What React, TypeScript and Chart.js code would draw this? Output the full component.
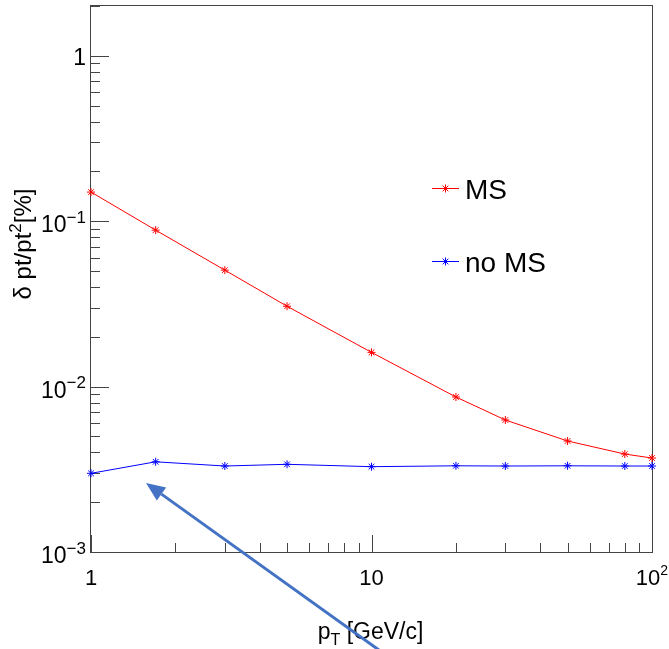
import { useEffect, useRef } from "react";
import { Chart, registerables } from "chart.js";

Chart.register(...registerables);

// ---- data ----
const ptValues = [1, 1.7, 3, 5, 10, 20, 30, 50, 80, 100];
const msValues = [0.15, 0.0883, 0.0506, 0.0306, 0.0161, 0.00865, 0.00628, 0.00469, 0.00391, 0.0037];
const noMsValues = [0.00299, 0.00351, 0.00331, 0.00339, 0.00328, 0.00332, 0.00331, 0.00332, 0.00331, 0.00331];
const seriesNames = ["MS", "no MS"];

const xTickValues = [1, 10, 100];
const xTickBases = ["1", "10", "10"];
const xTickExps = ["", "", "2"];
const yTickValues = [0.001, 0.01, 0.1, 1];
const yTickBases = ["10", "10", "10", "1"];
const yTickExps = ["\u22123", "\u22122", "\u22121", ""];

const xTitleParts = ["p", "T", " [GeV/c]"];
const yTitleParts = ["\u03b4 pt/pt", "2", "[%]"];

// arrow annotation in data coordinates (tip, tail)
const arrowTip = { x: 1.571, y: 0.002612 };
const arrowTail = { x: 12.64, y: 0.000207 };

const FONT = '"Liberation Sans", Arial, Helvetica, sans-serif';
const RED = "rgb(255,0,0)";
const BLUE = "rgb(0,0,255)";

function drawStar(ctx: CanvasRenderingContext2D, x: number, y: number, r: number, color: string) {
  ctx.save();
  ctx.strokeStyle = color;
  ctx.lineWidth = 1;
  ctx.beginPath();
  ctx.moveTo(x - r, y);
  ctx.lineTo(x + r, y);
  ctx.moveTo(x, y - r);
  ctx.lineTo(x, y + r);
  const d = r * Math.SQRT1_2;
  ctx.moveTo(x - d, y - d);
  ctx.lineTo(x + d, y + d);
  ctx.moveTo(x - d, y + d);
  ctx.lineTo(x + d, y - d);
  ctx.stroke();
  ctx.restore();
}

const rootPlugin = {
  id: "rootStyle",
  beforeDatasetsDraw(chart: any) {
    const ctx: CanvasRenderingContext2D = chart.ctx;
    const { left, right, top, bottom } = chart.chartArea;
    const xs = chart.scales.x;
    const ys = chart.scales.y;
    ctx.save();
    // frame
    ctx.strokeStyle = "#444";
    ctx.lineWidth = 1;
    ctx.strokeRect(Math.round(left) - 0.5, Math.round(top) - 0.5, Math.round(right - left) + 1, Math.round(bottom - top) + 1);

    // y ticks
    ctx.strokeStyle = "#444";
    ctx.beginPath();
    for (let d = -3; d <= 0; d++) {
      for (let k = 1; k <= 9; k++) {
        const v = k * Math.pow(10, d);
        if (v < ys.min * 0.999 || v > ys.max * 1.001) continue;
        const py = Math.round(ys.getPixelForValue(v)) + 0.5;
        const len = k === 1 ? 18 : 9;
        ctx.moveTo(left, py);
        ctx.lineTo(left + len, py);
      }
    }
    // x ticks
    for (let d = 0; d <= 2; d++) {
      for (let k = 1; k <= 9; k++) {
        const v = k * Math.pow(10, d);
        if (v < xs.min * 0.999 || v > xs.max * 1.001) continue;
        const px = Math.round(xs.getPixelForValue(v)) + 0.5;
        const len = k === 1 ? 17 : 9;
        ctx.moveTo(px, bottom);
        ctx.lineTo(px, bottom - len);
      }
    }
    ctx.stroke();

    // y tick labels
    ctx.fillStyle = "#000";
    ctx.textAlign = "right";
    ctx.textBaseline = "alphabetic";
    const labelRight = left - 5;
    yTickValues.forEach((v, i) => {
      const py = ys.getPixelForValue(v);
      const exp = yTickExps[i];
      if (!exp) {
        ctx.font = `23px ${FONT}`;
        ctx.fillText(yTickBases[i], labelRight, py + 9);
      } else {
        ctx.font = `17px ${FONT}`;
        const sw = ctx.measureText(exp).width;
        ctx.fillText(exp, labelRight, py + 1.5);
        ctx.font = `23px ${FONT}`;
        ctx.fillText(yTickBases[i], labelRight - sw, py + 11);
      }
    });

    // x tick labels
    ctx.textAlign = "left";
    xTickValues.forEach((v, i) => {
      const px = xs.getPixelForValue(v);
      ctx.font = `22px ${FONT}`;
      const bw = ctx.measureText(xTickBases[i]).width;
      ctx.font = `14px ${FONT}`;
      const ew = xTickExps[i] ? ctx.measureText(xTickExps[i]).width : 0;
      const x0 = px - (bw + ew) / 2;
      ctx.font = `22px ${FONT}`;
      ctx.fillText(xTickBases[i], x0, bottom + 33);
      if (xTickExps[i]) {
        ctx.font = `14px ${FONT}`;
        ctx.fillText(xTickExps[i], x0 + bw, bottom + 23);
      }
    });

    // x title
    {
      ctx.font = `23px ${FONT}`;
      const w0 = ctx.measureText(xTitleParts[0]).width;
      const w2 = ctx.measureText(xTitleParts[2]).width;
      ctx.font = `16px ${FONT}`;
      const w1 = ctx.measureText(xTitleParts[1]).width;
      const total = w0 + w1 + w2;
      const cx = (left + right) / 2 - 1;
      const by = 639;
      let x = cx - total / 2;
      ctx.font = `23px ${FONT}`;
      ctx.fillText(xTitleParts[0], x, by);
      x += w0;
      ctx.font = `16px ${FONT}`;
      ctx.fillText(xTitleParts[1], x, by + 6);
      x += w1;
      ctx.font = `23px ${FONT}`;
      ctx.fillText(xTitleParts[2], x, by);
    }

    // y title
    {
      ctx.save();
      ctx.translate(31, 244);
      ctx.rotate(-Math.PI / 2);
      ctx.font = `24px ${FONT}`;
      const w0 = ctx.measureText(yTitleParts[0]).width;
      const w2 = ctx.measureText(yTitleParts[2]).width;
      ctx.font = `17px ${FONT}`;
      const w1 = ctx.measureText(yTitleParts[1]).width;
      const total = w0 + w1 + w2;
      let x = -total / 2;
      ctx.font = `24px ${FONT}`;
      ctx.fillText(yTitleParts[0], x, 0);
      x += w0;
      ctx.font = `17px ${FONT}`;
      ctx.fillText(yTitleParts[1], x, -10);
      x += w1;
      ctx.font = `24px ${FONT}`;
      ctx.fillText(yTitleParts[2], x, 0);
      ctx.restore();
    }

    // legend
    const legendColors = [RED, BLUE];
    const legendYs = [top + 181.5, top + 255];
    seriesNames.forEach((name, i) => {
      const ly = Math.round(legendYs[i]) + 0.5;
      ctx.strokeStyle = legendColors[i];
      ctx.lineWidth = 1;
      ctx.beginPath();
      ctx.moveTo(432, ly);
      ctx.lineTo(459, ly);
      ctx.stroke();
      drawStar(ctx, 445.5, ly, 4, legendColors[i]);
      ctx.fillStyle = "#000";
      ctx.font = `28px ${FONT}`;
      ctx.textAlign = "left";
      ctx.fillText(name, 465, ly + 10.5);
    });
    ctx.restore();
  },
  afterDraw(chart: any) {
    const ctx: CanvasRenderingContext2D = chart.ctx;
    const xs = chart.scales.x;
    const ys = chart.scales.y;
    const tx = xs.getPixelForValue(arrowTip.x);
    const ty = ys.getPixelForValue(arrowTip.y);
    const sx = xs.getPixelForValue(arrowTail.x);
    const sy = ys.getPixelForValue(arrowTail.y);
    const ang = Math.atan2(ty - sy, tx - sx);
    const headLen = 19;
    const headHalf = 8;
    const bx = tx - headLen * Math.cos(ang);
    const by = ty - headLen * Math.sin(ang);
    ctx.save();
    ctx.strokeStyle = "#4472C4";
    ctx.fillStyle = "#4472C4";
    ctx.lineWidth = 3;
    ctx.beginPath();
    ctx.moveTo(sx, sy);
    ctx.lineTo(bx, by);
    ctx.stroke();
    ctx.beginPath();
    ctx.moveTo(tx, ty);
    ctx.lineTo(bx + headHalf * Math.sin(ang), by - headHalf * Math.cos(ang));
    ctx.lineTo(bx - headHalf * Math.sin(ang), by + headHalf * Math.cos(ang));
    ctx.closePath();
    ctx.fill();
    ctx.restore();
  },
};

export default function App() {
  const ref = useRef<HTMLCanvasElement>(null);
  useEffect(() => {
    document.body.style.margin = "0";
    const canvas = ref.current;
    if (!canvas) return;
    const chart = new Chart(canvas, {
      type: "line",
      data: {
        datasets: [
          {
            label: seriesNames[0],
            data: ptValues.map((x, i) => ({ x, y: msValues[i] })),
            borderColor: RED,
            backgroundColor: RED,
            borderWidth: 1,
            pointStyle: "star",
            pointRadius: 4,
            pointBorderWidth: 1,
            pointBorderColor: RED,
            tension: 0,
            fill: false,
            clip: false as any,
          },
          {
            label: seriesNames[1],
            data: ptValues.map((x, i) => ({ x, y: noMsValues[i] })),
            borderColor: BLUE,
            backgroundColor: BLUE,
            borderWidth: 1,
            pointStyle: "star",
            pointRadius: 4,
            pointBorderWidth: 1,
            pointBorderColor: BLUE,
            tension: 0,
            fill: false,
            clip: false as any,
          },
        ],
      },
      options: {
        animation: false,
        responsive: false,
        devicePixelRatio: 1,
        layout: { padding: { left: 91, right: 17, top: 6, bottom: 97 } },
        scales: {
          x: { type: "logarithmic", min: 1, max: 100, display: false },
          y: { type: "logarithmic", min: 0.001, max: 2, display: false },
        },
        plugins: { legend: { display: false }, tooltip: { enabled: false } },
      },
      plugins: [rootPlugin],
    });
    return () => chart.destroy();
  }, []);
  return <canvas ref={ref} width={669} height={649} style={{ display: "block" }} />;
}
